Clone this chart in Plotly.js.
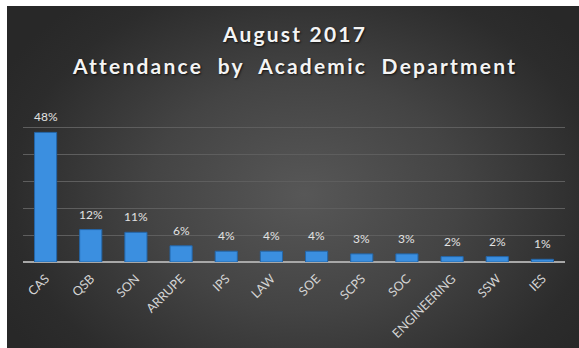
<!DOCTYPE html>
<html>
<head>
<meta charset="utf-8">
<script src="https://cdn.plot.ly/plotly-3.0.1.min.js"></script>
<style>
  html, body { margin: 0; padding: 0; background: #ffffff; }
  #wrap { position: relative; width: 579px; height: 348px; overflow: hidden; }
  #bg { position: absolute; left: 7px; top: 6px; width: 572px; height: 342px;
        background: radial-gradient(ellipse 60% 75% at 52% 55%, #575757 0%, #444444 45%, #2c2c2c 85%, #282828 100%); }
  #chart { position: absolute; left: 0; top: 0; width: 579px; height: 348px; }
</style>
</head>
<body>
<div id="wrap">
  <div id="bg"></div>
  <div id="chart"></div>
</div>
<script>
const titleLines = ["August 2017", "Attendance  by  Academic  Department"];
const departments = ["CAS", "QSB", "SON", "ARRUPE", "IPS", "LAW", "SOE", "SCPS", "SOC", "ENGINEERING", "SSW", "IES"];
const attendance = [48, 12, 11, 6, 4, 4, 4, 3, 3, 2, 2, 1];
const valueLabels = attendance.map(v => v + "%");

const trace = {
  type: "bar",
  x: departments,
  y: attendance,
  width: 0.49,
  marker: { color: "#3b8fe0", line: { color: "#2466a8", width: 1 } },
  hoverinfo: "skip"
};

const labelFont = { family: "Lato, 'Open Sans', sans-serif", size: 12, color: "#e2e2e2" };
const annotations = departments.map((d, i) => ({
  x: d, y: attendance[i], xref: "x", yref: "y",
  text: valueLabels[i], showarrow: false,
  yanchor: "bottom", yshift: 6,
  font: labelFont
}));

const titleFont = { family: "Lato, 'Open Sans', sans-serif", size: 21, weight: 700, color: "#f4f4f4", shadow: "1px 1px 2px rgba(0,0,0,0.7)" };
annotations.push({ x: 0.5, y: 1.41, xref: "paper", yref: "paper", text: titleLines[0], showarrow: false, xanchor: "center", yanchor: "middle", font: titleFont });
annotations.push({ x: 0.5, y: 1.215, xref: "paper", yref: "paper", text: titleLines[1], showarrow: false, xanchor: "center", yanchor: "middle", font: titleFont });

const layout = {
  width: 579, height: 348,
  paper_bgcolor: "rgba(0,0,0,0)",
  plot_bgcolor: "rgba(0,0,0,0)",
  margin: { l: 23, r: 14, t: 100, b: 86, pad: 0 },
  xaxis: {
    type: "category",
    tickangle: -45,
    ticklabelstandoff: 6,
    tickfont: { family: "Lato, 'Open Sans', sans-serif", size: 12.5, color: "#d4d4d4" },
    showgrid: false, showline: false, ticks: "", zeroline: false
  },
  yaxis: {
    range: [0, 60], dtick: 10,
    showticklabels: false, ticks: "",
    showgrid: true, gridcolor: "#5e5e5e", gridwidth: 1,
    zeroline: true, zerolinecolor: "#a8a8a8", zerolinewidth: 2,
    showline: false
  },
  bargap: 0.5,
  showlegend: false,
  annotations: annotations
};

Plotly.newPlot("chart", [trace], layout, { displayModeBar: false, staticPlot: true }).then(() => {
  document.querySelectorAll("#chart .annotation-text").forEach(t => {
    if (titleLines.includes(t.textContent)) t.style.letterSpacing = "2.2px";
  });
});
</script>
</body>
</html>
